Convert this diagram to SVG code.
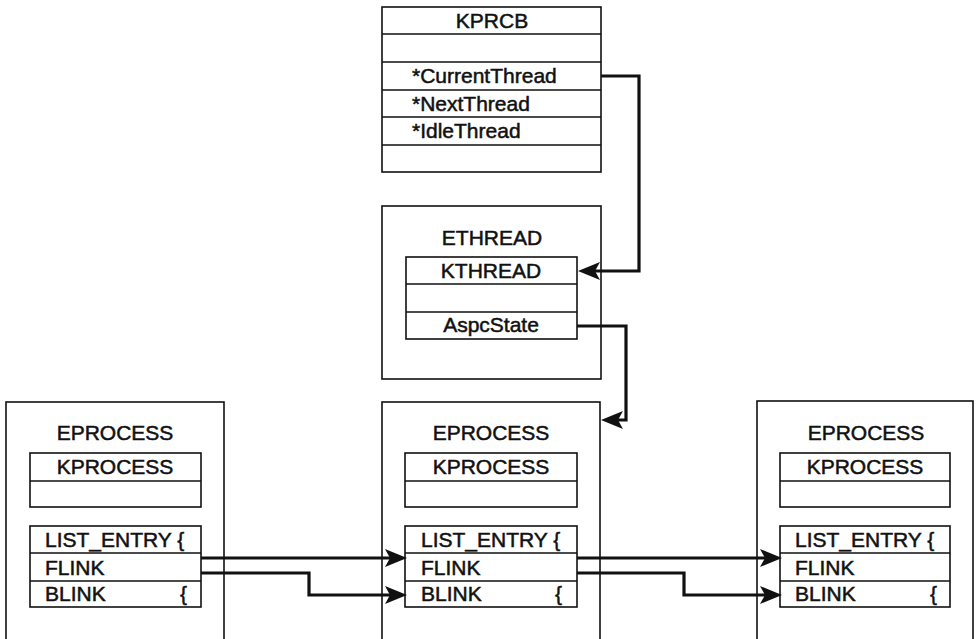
<svg xmlns="http://www.w3.org/2000/svg" width="977" height="639" viewBox="0 0 977 639">
<style>
.box{fill:#fff;stroke:#111;stroke-width:1.6}
.ln{stroke:#111;stroke-width:1.6;fill:none}
.t{font-family:"Liberation Sans",Arial,sans-serif;font-size:21px;fill:#111;stroke:#111;stroke-width:0.5}
.c{text-anchor:middle}
.con{stroke:#111;stroke-width:3.2;fill:none}
</style>
<defs>
<marker id="ah" markerUnits="userSpaceOnUse" viewBox="0 0 22 18" refX="6" refY="9" markerWidth="22" markerHeight="18" orient="auto">
<path d="M22,9 L0,0 L5,9 L0,18 z" fill="#111"/>
</marker>
</defs>
<rect width="977" height="639" fill="#fff"/>

<g id="kprcb">
<rect class="box" x="382" y="7" width="219" height="165"/>
<path class="ln" d="M382,34H601M382,62H601M382,90H601M382,117H601M382,145H601"/>
<text class="t c" x="492" y="28">KPRCB</text>
<text class="t" x="412" y="83">*CurrentThread</text>
<text class="t" x="412" y="111">*NextThread</text>
<text class="t" x="412" y="138">*IdleThread</text>
</g>

<g id="ethread">
<rect class="box" x="382" y="206" width="219" height="173"/>
<text class="t c" x="492" y="245">ETHREAD</text>
<rect class="box" x="406" y="257" width="171" height="82"/>
<path class="ln" d="M406,284H577M406,312H577"/>
<text class="t c" x="491" y="278">KTHREAD</text>
<text class="t c" x="491" y="332">AspcState</text>
</g>

<g id="eprocess-left">
<rect class="box" x="6" y="402" width="218" height="250"/>
<text class="t c" x="115" y="440">EPROCESS</text>
<rect class="box" x="30" y="453" width="171" height="54"/>
<path class="ln" d="M30,481H201"/>
<text class="t c" x="115" y="474">KPROCESS</text>
<rect class="box" x="30" y="526" width="171" height="81"/>
<path class="ln" d="M30,553H201M30,581H201"/>
<text class="t" x="45" y="547">LIST_ENTRY {</text>
<text class="t" x="45" y="575">FLINK</text>
<text class="t" x="45" y="601">BLINK</text>
<text class="t" x="180" y="601">{</text>
</g>

<g id="eprocess-middle">
<rect class="box" x="382" y="402" width="218" height="250"/>
<text class="t c" x="491" y="440">EPROCESS</text>
<rect class="box" x="405" y="453" width="172" height="54"/>
<path class="ln" d="M405,481H577"/>
<text class="t c" x="491" y="474">KPROCESS</text>
<rect class="box" x="405" y="526" width="172" height="81"/>
<path class="ln" d="M405,553H577M405,581H577"/>
<text class="t" x="421" y="547">LIST_ENTRY {</text>
<text class="t" x="421" y="575">FLINK</text>
<text class="t" x="421" y="601">BLINK</text>
<text class="t" x="555" y="601">{</text>
</g>

<g id="eprocess-right">
<rect class="box" x="757" y="401" width="216" height="250"/>
<text class="t c" x="866" y="440">EPROCESS</text>
<rect class="box" x="780" y="453" width="170" height="54"/>
<path class="ln" d="M780,481H950"/>
<text class="t c" x="865" y="474">KPROCESS</text>
<rect class="box" x="780" y="526" width="170" height="81"/>
<path class="ln" d="M780,553H950M780,581H950"/>
<text class="t" x="795" y="547">LIST_ENTRY {</text>
<text class="t" x="795" y="575">FLINK</text>
<text class="t" x="795" y="601">BLINK</text>
<text class="t" x="930" y="601">{</text>
</g>

<g id="connectors">
<path class="con" marker-end="url(#ah)" d="M601,76H639V271H594"/>
<path class="con" marker-end="url(#ah)" d="M577,326H626V420H617"/>
<path class="con" marker-end="url(#ah)" d="M201,558H391"/>
<path class="con" marker-end="url(#ah)" d="M201,573H309V595H391"/>
<path class="con" marker-end="url(#ah)" d="M577,558H766"/>
<path class="con" marker-end="url(#ah)" d="M577,573H684V595H766"/>
</g>
</svg>
